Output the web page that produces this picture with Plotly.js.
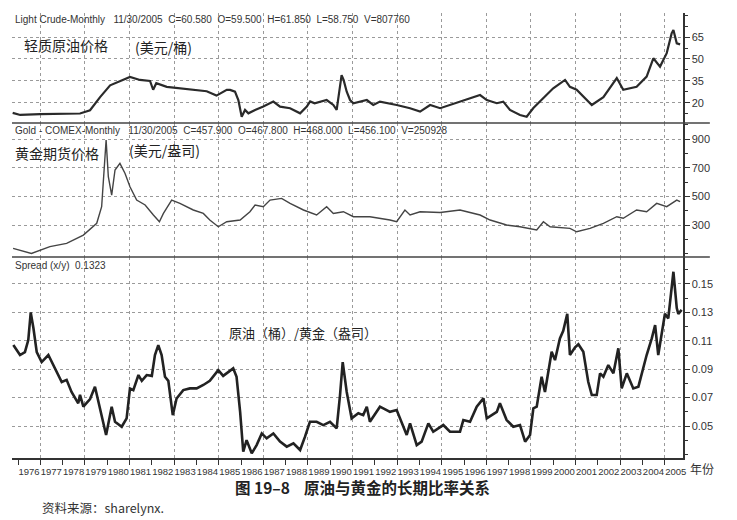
<!DOCTYPE html>
<html><head><meta charset="utf-8">
<script src="https://cdn.plot.ly/plotly-3.0.1.min.js"></script>
<style>html,body{margin:0;padding:0;background:#fff;}#chart{width:737px;height:520px;}</style>
</head><body><div id="chart"></div>
<script>
// ---- Data ----
const crudeYears = [1975.76,1976.1,1977.0,1978.0,1978.78,1979.23,1979.68,1980.13,1980.43,1980.87,1981.02,1981.47,1981.92,1982.06,1982.2,1982.67,1983.26,1983.85,1984.46,1984.9,1985.36,1985.51,1985.73,1985.88,1986.03,1986.18,1986.33,1986.63,1987.0,1987.45,1987.75,1988.2,1988.65,1988.95,1989.1,1989.3,1989.84,1990.14,1990.29,1990.51,1990.6,1990.74,1990.89,1991.04,1991.64,1991.93,1992.23,1992.98,1993.58,1994.03,1994.48,1994.93,1995.37,1995.97,1996.27,1996.72,1997.02,1997.47,1997.76,1998.06,1998.51,1998.81,1999.11,1999.56,2000.0,2000.53,2000.75,2001.05,2001.5,2001.73,2002.25,2002.85,2003.14,2003.74,2004.19,2004.49,2004.79,2005.09,2005.31,2005.39,2005.54,2005.69];
const crudePrice = [13.2,11.8,12.3,12.5,12.8,15,24,32,34,37,37.7,35.7,35,29,33.5,31,30,29,28,25,29,28.9,27.7,22,10.6,15.2,12.9,15.2,17.5,20.9,17.5,16.4,12.9,17.5,21,19.8,22,18.6,15.2,39,35.7,27.7,22,19.8,22,18.6,20.9,18.6,16.4,14.1,18.6,16.4,18.6,22,23.2,25.4,22,19.8,20.9,15.2,11.8,10.6,16.5,23,30,35.7,31,29,22,18.6,24,37,29,31,38,50.5,44.8,54,67.5,69.8,60.7,60];

const goldYears = [1975.78,1976.6,1977.43,1978.18,1978.93,1979.53,1979.75,1979.9,1979.95,1980.05,1980.2,1980.35,1980.57,1980.8,1981.02,1981.32,1981.7,1982.07,1982.34,1982.52,1982.89,1983.26,1983.86,1984.31,1984.6,1984.98,1985.36,1985.96,1986.4,1986.63,1987.0,1987.3,1987.82,1988.2,1988.8,1989.39,1989.84,1990.14,1990.59,1991.04,1991.78,1992.68,1992.98,1993.35,1993.58,1994.03,1994.93,1995.82,1996.72,1997.17,1997.91,1998.51,1999.26,1999.56,1999.86,2000.75,2001.05,2001.65,2002.25,2002.85,2003.14,2003.74,2004.19,2004.64,2005.09,2005.54,2005.69];
const goldPrice = [137,102,149,172,230,312,428,753,893,637,509,684,730,660,567,474,440,370,323,381,474,451,405,381,335,288,323,335,393,440,428,474,486,451,405,370,428,381,393,358,358,335,323,405,370,393,388,405,370,335,300,288,265,323,288,277,253,277,312,358,347,405,393,451,428,474,463];

const spreadYears = [1975.79,1976.09,1976.31,1976.46,1976.57,1976.69,1976.84,1977.06,1977.36,1977.66,1977.96,1978.18,1978.4,1978.7,1978.78,1978.93,1979.23,1979.45,1979.68,1979.95,1980.2,1980.35,1980.65,1980.87,1981.02,1981.17,1981.4,1981.55,1981.77,1982.0,1982.14,1982.29,1982.44,1982.59,1982.74,1982.94,1983.11,1983.41,1983.71,1984.01,1984.31,1984.6,1984.98,1985.2,1985.65,1985.8,1985.96,1986.1,1986.25,1986.48,1986.7,1986.93,1987.15,1987.45,1987.75,1988.05,1988.35,1988.65,1988.87,1989.09,1989.39,1989.69,1989.99,1990.29,1990.44,1990.56,1990.74,1990.96,1991.26,1991.48,1991.64,1991.78,1992.23,1992.68,1992.98,1993.43,1993.58,1993.88,1994.1,1994.4,1994.62,1995.07,1995.37,1995.82,1995.97,1996.27,1996.57,1996.87,1997.02,1997.47,1997.61,1997.91,1998.21,1998.51,1998.74,1998.96,1999.11,1999.26,1999.48,1999.63,1999.93,2000.08,2000.3,2000.45,2000.63,2000.75,2000.98,2001.13,2001.35,2001.57,2001.73,2001.95,2002.1,2002.25,2002.47,2002.7,2002.92,2003.07,2003.3,2003.59,2003.82,2003.97,2004.19,2004.42,2004.57,2004.71,2004.87,2005.01,2005.16,2005.39,2005.54,2005.61,2005.76];
const spreadValue = [0.107,0.100,0.102,0.1105,0.130,0.119,0.102,0.095,0.100,0.0906,0.081,0.0825,0.074,0.066,0.072,0.0636,0.069,0.0777,0.0624,0.0437,0.0636,0.053,0.0495,0.0554,0.0765,0.0753,0.0859,0.0818,0.0859,0.0853,0.100,0.107,0.100,0.0847,0.0818,0.0577,0.0694,0.0753,0.0765,0.0765,0.0789,0.0818,0.0894,0.0853,0.0906,0.0847,0.060,0.0319,0.0401,0.0308,0.0366,0.0448,0.0413,0.0448,0.039,0.0355,0.0378,0.0331,0.0425,0.053,0.053,0.0507,0.053,0.0484,0.0718,0.095,0.074,0.0554,0.059,0.0577,0.0636,0.053,0.0636,0.060,0.0613,0.0437,0.0519,0.0366,0.039,0.0519,0.046,0.0507,0.046,0.046,0.0542,0.053,0.0636,0.0695,0.0554,0.060,0.066,0.0542,0.0495,0.0507,0.039,0.0437,0.0624,0.0636,0.0847,0.074,0.1023,0.0964,0.1117,0.117,0.129,0.100,0.1054,0.1076,0.1023,0.0812,0.0718,0.0718,0.0871,0.0847,0.0929,0.0871,0.1047,0.0765,0.0871,0.0765,0.0777,0.0871,0.100,0.1117,0.121,0.100,0.1141,0.129,0.1258,0.1586,0.133,0.129,0.1318];

const yearTicks = [1976,1977,1978,1979,1980,1981,1982,1983,1984,1985,1986,1987,1988,1989,1990,1991,1992,1993,1994,1995,1996,1997,1998,1999,2000,2001,2002,2003,2004,2005];
const yearLabels = ["1976","1977","1978","1979","1980","1981","1982","1983","1984","1985","1986","1987","1988","1989","1990","1991","1992","1993","1994","1995","1996","1997","1998","1999","2000","2001","2002","2003","2004","2005"];
const crudeTicks = [20,35,50,65];
const goldTicks = [300,500,700,900];
const spreadTicks = [0.05,0.07,0.09,0.11,0.13,0.15];

// ---- Styling ----
const XR = [1975.73, 2005.82];
const LAT = 'Liberation Sans, Arial, sans-serif';
const CJK = 'Noto Sans CJK SC, sans-serif';
const INK = '#333';
const D1 = 0.7528, D2 = 0.4517;
const NB = '\u00a0';
function sp(n){return NB.repeat(n);}

const traces = [
  {x: crudeYears, y: crudePrice, xaxis:'x3', yaxis:'y3', type:'scatter', mode:'lines',
   line:{color:'#2a2a2a', width:2.2}, hoverinfo:'skip'},
  {x: goldYears, y: goldPrice, xaxis:'x2', yaxis:'y2', type:'scatter', mode:'lines',
   line:{color:'#444', width:1.4}, hoverinfo:'skip'},
  {x: spreadYears, y: spreadValue, xaxis:'x', yaxis:'y', type:'scatter', mode:'lines',
   line:{color:'#222', width:2.6}, hoverinfo:'skip'},
  // empty carrier so that the year-label axis is drawn
  {x: [], y: [], xaxis:'x4', yaxis:'y', type:'scatter', mode:'lines', hoverinfo:'skip'}
];

const gridX = {range:XR, tickmode:'linear', tick0:1977, dtick:2, showgrid:true, griddash:'dot',
  gridcolor:'#9a9a9a', gridwidth:1, ticks:'', showticklabels:false, zeroline:false};
function yAx(domain, range, tickvals, fmt, minorTick0, minorDtick){
  return {domain:domain, range:range, side:'right', tickmode:'array', tickvals:tickvals,
    tickformat:fmt, showgrid:true, griddash:'dot', gridcolor:'#9a9a9a', gridwidth:1,
    showline:true, linecolor:INK, linewidth:1.5, ticks:'outside', ticklen:5, tickcolor:INK,
    tickfont:{family:LAT, size:11, color:INK}, zeroline:false,
    minor:{tickmode:'linear', tick0:minorTick0, dtick:minorDtick, ticks:'outside', ticklen:3, tickcolor:INK, showgrid:false}};
}

const layout = {
  width:737, height:520, paper_bgcolor:'#fff', plot_bgcolor:'#fff',
  margin:{l:12, r:54, t:13, b:62}, showlegend:false,
  font:{family:LAT, color:INK},
  xaxis: Object.assign({}, gridX, {anchor:'y', domain:[0,1], showline:true, linecolor:INK, linewidth:1.5}),
  xaxis2: Object.assign({}, gridX, {anchor:'y2', domain:[0,1]}),
  xaxis3: Object.assign({}, gridX, {anchor:'y3', domain:[0,1]}),
  xaxis4: {overlaying:'x', anchor:'y', side:'bottom', range:XR, tickmode:'array', tickvals:yearTicks,
    ticktext:yearLabels, ticks:'outside', ticklen:6, tickcolor:INK, tickwidth:1, tickangle:0,
    tickfont:{family:LAT, size:9.5, color:INK}, ticklabelshift:11, ticklabelstandoff:-1,
    showgrid:false, showline:false, zeroline:false},
  yaxis: yAx([0,D2], [0.0275,0.169], spreadTicks, '.2f', 0.04, 0.01),
  yaxis2: yAx([D2,D1], [77,1012], goldTicks, 'd', 200, 100),
  yaxis3: yAx([D1,1], [6.3,81.4], crudeTicks, 'd', 12.5, 7.5),
  shapes:[
    {type:'line', xref:'paper', yref:'paper', x0:0, x1:1.04, y0:D1, y1:D1, line:{color:'#444', width:1.5}},
    {type:'line', xref:'paper', yref:'paper', x0:0, x1:1.04, y0:D2, y1:D2, line:{color:'#444', width:1.5}}
  ],
  annotations:[
    {xref:'paper', yref:'paper', x:0.0015, y:0.9865, xanchor:'left', yanchor:'middle', showarrow:false,
     text:'Light Crude-Monthly'+sp(3)+'11/30/2005'+sp(2)+'C=60.580'+sp(2)+'O=59.500'+sp(2)+'H=61.850'+sp(2)+'L=58.750'+sp(2)+'V=807760',
     font:{family:LAT, size:10, color:INK}},
    {xref:'paper', yref:'paper', x:0.0149, y:0.928, xanchor:'left', yanchor:'middle', showarrow:false,
     text:'轻质原油价格', font:{family:CJK, size:14, color:'#222'}},
    {xref:'paper', yref:'paper', x:0.18, y:0.9236, xanchor:'left', yanchor:'middle', showarrow:false,
     text:'(美元/桶)', font:{family:CJK, size:14, color:'#222'}},
    {xref:'paper', yref:'paper', x:0.0015, y:0.737, xanchor:'left', yanchor:'middle', showarrow:false,
     text:'Gold - COMEX-Monthly'+sp(3)+'11/30/2005'+sp(2)+'C=457.900'+sp(2)+'O=467.800'+sp(2)+'H=468.000'+sp(2)+'L=456.100'+sp(2)+'V=250928',
     font:{family:LAT, size:10, color:INK}},
    {xref:'paper', yref:'paper', x:0.0015, y:0.685, xanchor:'left', yanchor:'middle', showarrow:false,
     text:'黄金期货价格', font:{family:CJK, size:14, color:'#222'}},
    {xref:'paper', yref:'paper', x:0.171, y:0.692, xanchor:'left', yanchor:'middle', showarrow:false,
     text:'(美元/盎司)', font:{family:CJK, size:14, color:'#222'}},
    {xref:'paper', yref:'paper', x:0.0015, y:0.4337, xanchor:'left', yanchor:'middle', showarrow:false,
     text:'Spread (x/y)'+sp(2)+'0.1323', font:{family:LAT, size:10, color:INK}},
    {xref:'paper', yref:'paper', x:0.32, y:0.281, xanchor:'left', yanchor:'middle', showarrow:false,
     text:'原油（桶）/黄金（盎司）', font:{family:CJK, size:13, color:'#222'}},
    {xref:'paper', yref:'paper', x:1.0075, y:-0.0225, xanchor:'left', yanchor:'middle', showarrow:false,
     text:'年份', font:{family:CJK, size:12, color:INK}},
    {xref:'paper', yref:'paper', x:0.3294, y:-0.0645, xanchor:'left', yanchor:'middle', showarrow:false,
     text:'<b>图 19–8'+sp(4)+'原油与黄金的长期比率关系</b>', font:{family:CJK, size:15.5, color:'#222'}},
    {xref:'paper', yref:'paper', x:0.0417, y:-0.1105, xanchor:'left', yanchor:'middle', showarrow:false,
     text:'资料来源：sharelynx.', font:{family:CJK, size:12.5, color:INK}}
  ]
};

Plotly.newPlot('chart', traces, layout, {staticPlot:true, displayModeBar:false});
</script>
</body></html>
